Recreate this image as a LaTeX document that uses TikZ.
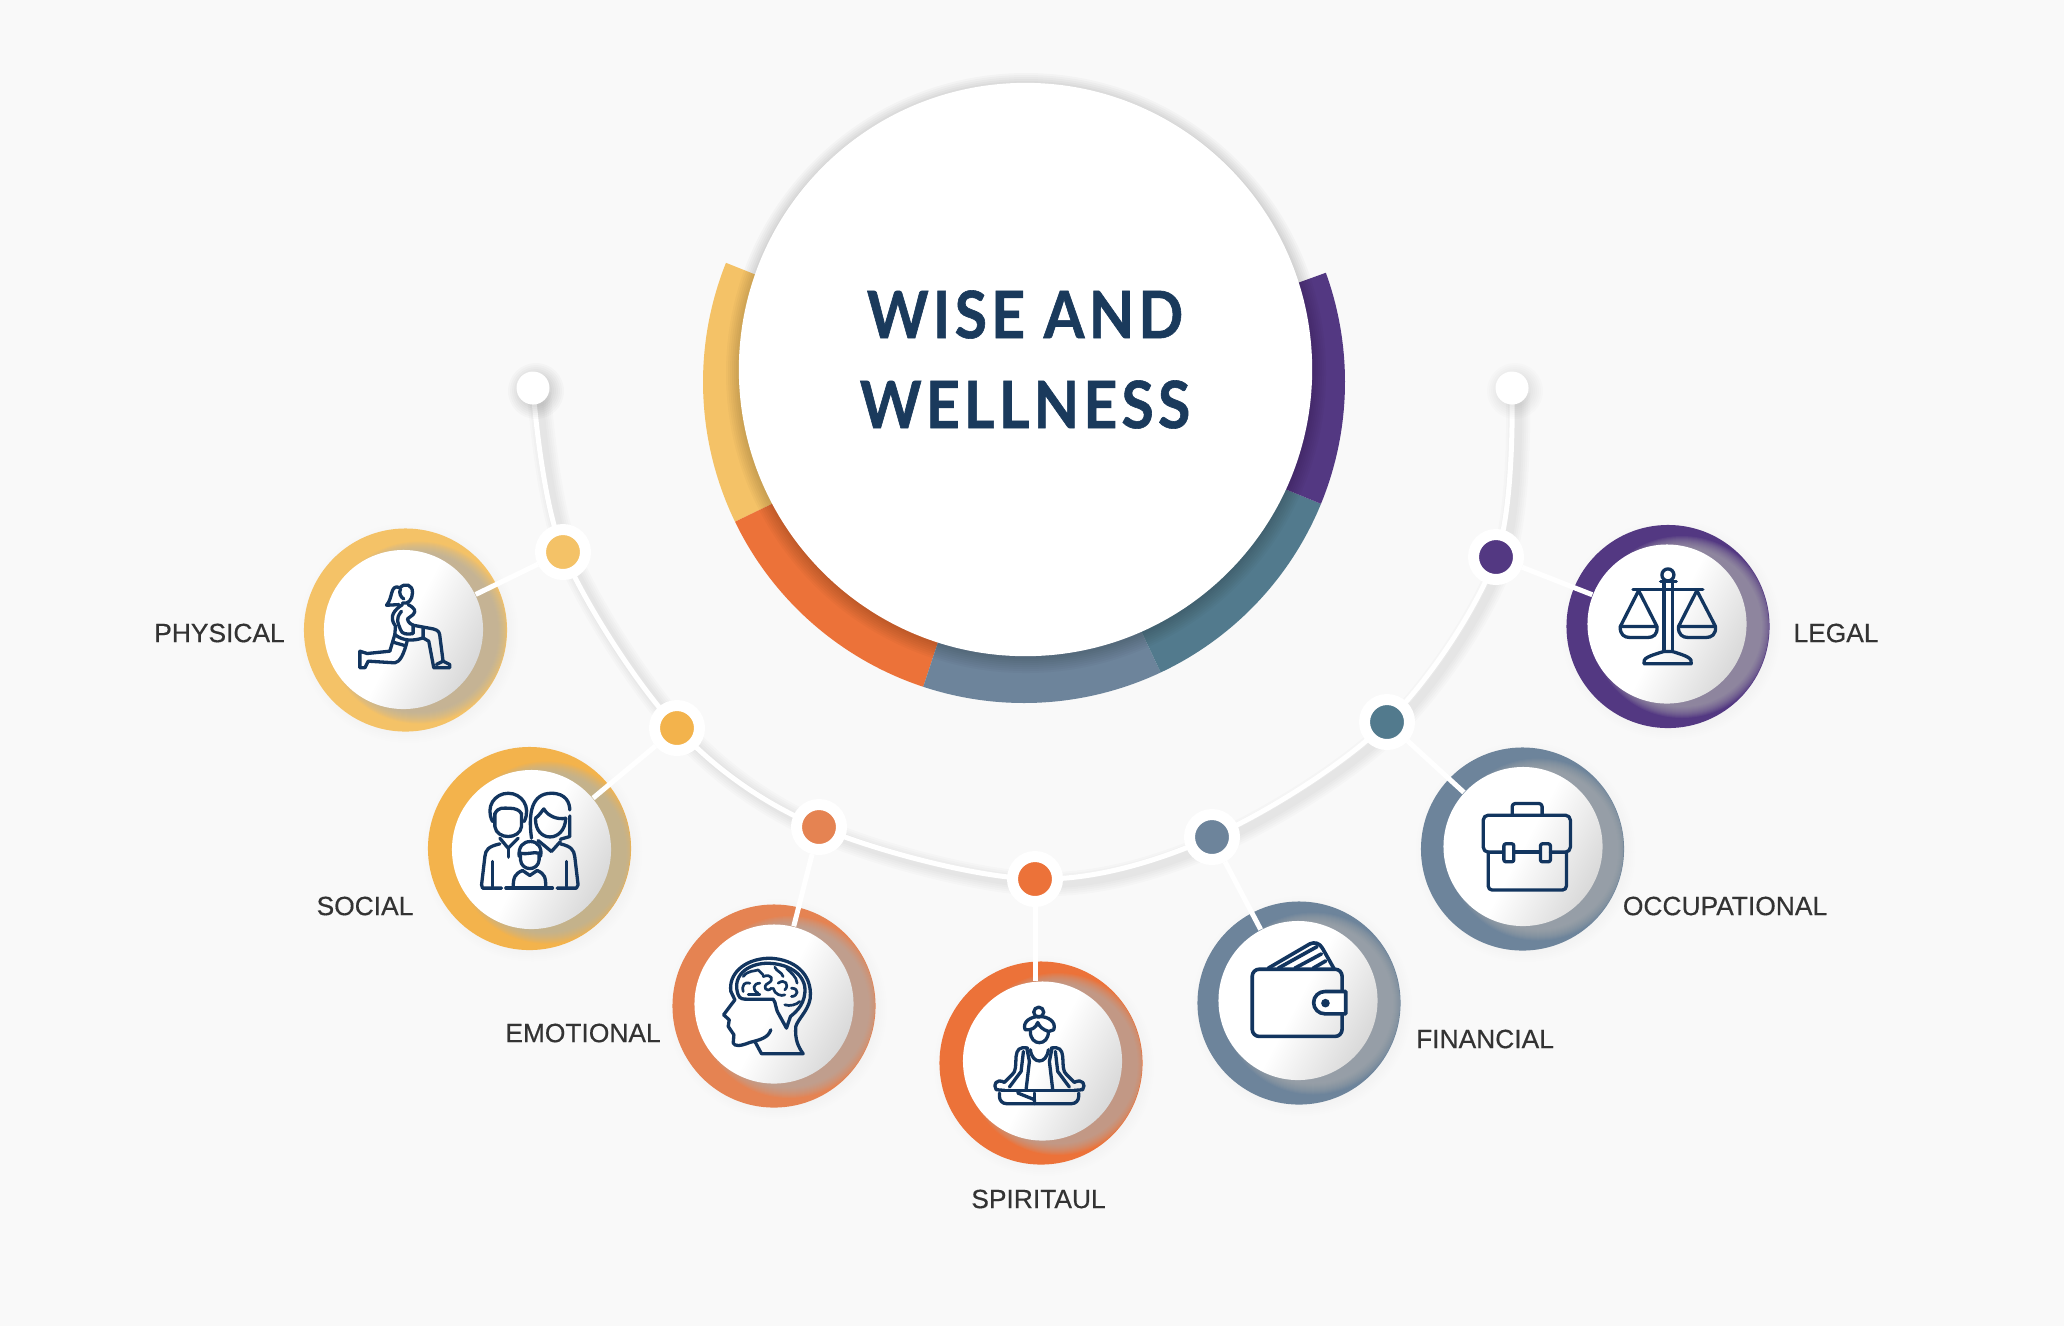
\documentclass[tikz,border=0pt]{standalone}
\usepackage{fontspec}
\usepackage{xcolor}
\setmainfont[FakeBold=.45]{Liberation Sans}
\newfontfamily\titlefont[FakeStretch=.9,LetterSpace=6.5,BoldFeatures={FakeBold=.9}]{Lato}
\definecolor{pagegrey}{HTML}{F9F9F9}
\definecolor{inkblue}{HTML}{12355F}
\definecolor{titleblue}{HTML}{1A3A5C}
\definecolor{labelgrey}{HTML}{333333}
\definecolor{physcol}{HTML}{F4C267}
\definecolor{soccol}{HTML}{F3B34C}
\definecolor{emocol}{HTML}{E58352}
\definecolor{spircol}{HTML}{EC7239}
\definecolor{fincol}{HTML}{6D849B}
\definecolor{tealcol}{HTML}{527A8D}
\definecolor{legcol}{HTML}{533882}
\tikzset{
  ringdisc/.style={circle,minimum size=2.03cm,inner sep=0pt},
  innerdisc/.style={circle,minimum size=1.59cm,inner sep=0pt,top color=white,bottom color=black!15,middle color=white,shading angle=62},
  dotnode/.style={circle,draw=white,line width=.11cm,minimum size=.45cm,inner sep=0pt},
  enddot/.style={circle,fill=white,minimum size=.33cm,inner sep=0pt},
  spoke/.style={draw=white,line width=.05cm},
  rail/.style={draw=white,line width=.05cm},
  tag/.style={text=labelgrey,font=\fontsize{7.5}{9}\selectfont},
  headline/.style={text=titleblue,font=\titlefont\bfseries\fontsize{18.6}{22}\selectfont},
  iconink/.style={x=.0033333cm,y=-.0033333cm,color=inkblue,line width=.033cm,line cap=round,line join=round}
}
% x y radius opacity
\newcommand{\softshadow}[4]{%
  \foreach \i in {1,...,7} \fill[black,opacity=#4] (#1,#2) circle ({#3+\i*2});}
% name, ring centre, disc centre, colour
\newcommand{\wellball}[6]{%
  \softshadow{#2+3}{#3+3}{96}{.004}
  \node[ringdisc,fill=#6] (r#1) at (#2,#3) {};
  \begin{scope}
    \clip (#2,#3) circle (101);
    \foreach \r in {80,81,...,91} \fill[black!30,opacity=.085] (#4+15,#5+3) circle (\r);
  \end{scope}
  \node[innerdisc] (i#1) at (#4,#5) {};}
\begin{document}
\begin{tikzpicture}[x=.01cm,y=-.01cm]
  \useasboundingbox (0,0) rectangle (2064,1326);
  \fill[pagegrey] (0,0) rectangle (2064,1326);

  % the big ring
  \coordinate (hub) at (1024,382);
  \foreach \from/\to/\col in {154.2/201.8/physcol,108.3/154.2/spircol,64.8/108.3/fincol,22.3/64.8/tealcol,-19.9/22.3/legcol}
    \fill[\col] (hub) -- ++(\to:321) arc (\to:\from:321) -- cycle;
  \foreach \i in {1,...,8} \fill[black,opacity=.024] (1026,373) circle ({284+\i*2});
  \node[circle,fill=white,minimum size=5.73cm,inner sep=0pt] (wisecore) at (1025.5,369.5) {};
  \node[headline] (wiseline) at (1025,314.5) {WISE AND};
  \node[headline] (wellline) at (1025,404.5) {WELLNESS};

  % points on the rail
  \coordinate (cleft) at (533,388);
  \coordinate (cphys) at (563,552);
  \coordinate (csoc) at (677,728);
  \coordinate (cemo) at (819,827);
  \coordinate (cspir) at (1035,879);
  \coordinate (cfin) at (1212,837);
  \coordinate (cocc) at (1387,722);
  \coordinate (cleg) at (1496,557);
  \coordinate (cright) at (1512,388);
  \foreach \w in {24,20,16,12,8}
    \draw[black,opacity=.014,line width=\w*.01cm,transform canvas={xshift=.06cm,yshift=-.05cm}]
      plot[smooth,tension=.55] coordinates {(cleft) (cphys) (csoc) (cemo) (cspir) (cfin) (cocc) (cleg) (cright)};
  \draw[rail] plot[smooth,tension=.55] coordinates {(cleft) (cphys) (csoc) (cemo) (cspir) (cfin) (cocc) (cleg) (cright)};

  \softshadow{536}{391}{14}{.02}
  \softshadow{1515}{391}{14}{.012}
  \node[enddot] (dleft) at (cleft) {};
  \node[enddot] (dright) at (cright) {};

  \wellball{phys}{405.5}{630}{403.5}{629.5}{physcol}
  \wellball{soc}{529.5}{848.5}{531.5}{849.5}{soccol}
  \wellball{emo}{774}{1006}{774}{1004}{emocol}
  \wellball{spir}{1041}{1063}{1042.5}{1061}{spircol}
  \wellball{fin}{1299}{1003}{1298}{1000.5}{fincol}
  \wellball{occ}{1522.5}{849}{1523}{846.5}{fincol}
  \wellball{leg}{1668}{626.5}{1667}{624}{legcol}

  \node[dotnode,fill=physcol] (dphys) at (cphys) {};
  \node[dotnode,fill=soccol] (dsoc) at (csoc) {};
  \node[dotnode,fill=emocol] (demo) at (cemo) {};
  \node[dotnode,fill=spircol] (dspir) at (cspir) {};
  \node[dotnode,fill=fincol] (dfin) at (cfin) {};
  \node[dotnode,fill=tealcol] (docc) at (cocc) {};
  \node[dotnode,fill=legcol] (dleg) at (cleg) {};

  \draw[spoke] (dphys) -- (iphys);
  \draw[spoke] (dsoc) -- (isoc);
  \draw[spoke] (demo) -- (iemo);
  \draw[spoke] (dspir) -- (dspir |- ispir.north);
  \draw[spoke] (dfin) -- (ifin);
  \draw[spoke] (docc) -- (iocc);
  \draw[spoke] (dleg) -- (ileg);

  \node[tag] (tphys) at (219.5,633) {PHYSICAL};
  \node[tag] (tsoc) at (365,906) {SOCIAL};
  \node[tag] (temo) at (583,1033) {EMOTIONAL};
  \node[tag] (tspir) at (1038.5,1199) {SPIRITAUL};
  \node[tag] (tfin) at (1485,1039) {FINANCIAL};
  \node[tag] (tocc) at (1725,906) {OCCUPATIONAL};
  \node[tag] (tleg) at (1836,633) {LEGAL};

  % lunge
  \begin{scope}[shift={(280,340)},iconink]
    \draw (360,745) .. controls (375,728) and (400,735) .. (398,760) .. controls (398,780) and (385,795) .. (368,790);
    \draw (358,743) .. controls (330,735) and (340,775) .. (320,797) -- (358,795);
    \draw (362,748) .. controls (355,760) and (365,775) .. (372,778);
    \draw (368,795) .. controls (345,810) and (325,830) .. (347,860) -- (345,885) -- (330,935);
    \draw (385,795) .. controls (405,805) and (410,815) .. (400,825) -- (383,838) .. controls (385,850) and (395,855) .. (400,857);
    \draw (365,815) .. controls (345,840) and (355,850) .. (362,870) .. controls (365,885) and (385,885) .. (400,882) -- (400,857);
    \draw (400,857) -- (460,868) .. controls (478,872) and (480,880) .. (481,895) -- (490,965);
    \draw (430,865) -- (430,895) -- (447,905) -- (462,985) -- (510,985) -- (510,975) -- (490,965) -- (470,975);
    \draw (345,885) .. controls (370,905) and (400,905) .. (430,895);
    \draw (340,908) -- (375,918);
    \draw (330,935) -- (262,942) -- (240,935) -- (240,985) -- (255,985) -- (265,965) -- (345,970) .. controls (360,968) and (372,945) .. (382,905);
  \end{scope}
  % family
  \begin{scope}[shift={(420,740)},iconink]
    \draw (225,220) -- (225,260) .. controls (230,300) and (300,300) .. (305,260) -- (305,220);
    \draw (218,245) .. controls (195,200) and (225,160) .. (265,160) .. controls (305,160) and (335,200) .. (313,245);
    \draw (225,222) .. controls (235,200) and (250,205) .. (270,205) .. controls (285,205) and (300,210) .. (305,222);
    \draw (240,295) -- (265,325) -- (295,295);
    \draw (265,325) -- (265,352);
    \draw (240,312) .. controls (205,320) and (197,330) .. (195,350) -- (185,435) -- (188,445) -- (245,445);
    \draw (217,365) -- (217,440);
    \draw (335,295) .. controls (325,220) and (335,160) .. (395,160) .. controls (440,160) and (450,190) .. (450,210);
    \draw (450,228) -- (450,290) -- (422,298);
    \draw (347,235) .. controls (360,225) and (365,215) .. (372,207) .. controls (385,230) and (415,240) .. (438,235);
    \draw (347,235) .. controls (345,310) and (435,310) .. (438,235);
    \draw (355,302) -- (395,335) -- (422,305);
    \draw (422,312) .. controls (455,320) and (462,330) .. (465,350) -- (475,435) -- (470,445) -- (412,445);
    \draw (440,365) -- (440,440);
    \draw (298,350) .. controls (295,320) and (310,305) .. (332,305) .. controls (355,305) and (368,325) .. (362,350);
    \draw (302,340) -- (302,360) .. controls (305,395) and (355,395) .. (358,360) -- (358,340);
    \draw (302,340) .. controls (325,345) and (340,335) .. (358,340);
    \draw (308,392) .. controls (285,402) and (280,412) .. (280,445);
    \draw (352,392) .. controls (375,402) and (378,412) .. (378,445);
    \draw (308,392) -- (330,407) -- (352,392);
    \draw (258,445) -- (398,445);
  \end{scope}
  % head with brain
  \begin{scope}[shift={(660,880)},iconink]
    \draw (213,335) -- (225,360) -- (191,405) -- (208,420) -- (205,440) -- (222,465) -- (220,490) .. controls (225,500) and (240,500) .. (270,488) .. controls (300,480) and (325,475) .. (333,450);
    \draw (285,485) -- (305,522) -- (430,522) .. controls (415,500) and (405,480) .. (408,440) .. controls (415,415) and (455,385) .. (452,340) .. controls (450,270) and (390,235) .. (325,235) .. controls (250,238) and (205,285) .. (213,335);
    \draw (235,345) .. controls (240,358) and (250,358) .. (262,358) -- (340,358) .. controls (350,370) and (345,385) .. (358,405) -- (380,445) -- (392,410) .. controls (410,395) and (440,370) .. (435,320) .. controls (425,270) and (370,250) .. (320,250) .. controls (260,252) and (215,290) .. (235,345);
    \draw[line width=.027cm] (250,335) .. controls (245,315) and (255,305) .. (270,310);
    \draw[line width=.027cm] (250,290) .. controls (265,270) and (285,275) .. (295,270) -- (310,285);
    \draw[line width=.027cm] (300,310) .. controls (280,310) and (275,330) .. (295,340);
    \draw[line width=.027cm] (310,290) .. controls (335,280) and (345,300) .. (325,310) .. controls (305,320) and (320,340) .. (335,325);
    \draw[line width=.027cm] (345,262) .. controls (350,275) and (365,275) .. (370,290);
    \draw[line width=.027cm] (380,265) .. controls (395,280) and (410,290) .. (412,310);
    \draw[line width=.027cm] (355,310) .. controls (375,295) and (390,315) .. (375,330);
    \draw[line width=.027cm] (340,325) .. controls (345,345) and (365,350) .. (375,345);
    \draw[line width=.027cm] (395,325) .. controls (420,325) and (415,350) .. (395,350);
    \draw[line width=.027cm] (375,375) .. controls (390,380) and (410,375) .. (420,365);
    \draw[line width=.027cm] (265,345) -- (300,345);
  % meditating figure
    \draw (1138,397) circle (15);
    \draw (1097,450) .. controls (1088,425) and (1115,410) .. (1140,410) .. controls (1165,410) and (1192,425) .. (1183,450) -- (1168,455) .. controls (1150,450) and (1140,440) .. (1135,428) .. controls (1130,445) and (1115,452) .. (1097,450);
    \draw (1113,455) .. controls (1112,500) and (1168,500) .. (1167,455);
    \draw (1105,505) .. controls (1080,500) and (1072,510) .. (1070,530) .. controls (1068,560) and (1070,575) .. (1058,585) -- (1035,608) .. controls (1010,595) and (1000,615) .. (1010,630) -- (1035,632);
    \draw (1175,505) .. controls (1200,500) and (1208,510) .. (1210,530) .. controls (1212,560) and (1210,575) .. (1222,585) -- (1245,608) .. controls (1270,595) and (1280,615) .. (1270,630) -- (1245,632);
    \draw (1092,515) -- (1085,575) -- (1050,622);
    \draw (1188,515) -- (1195,575) -- (1230,622);
    \draw (1102,505) -- (1110,545) -- (1100,630);
    \draw (1178,505) -- (1170,545) -- (1180,630);
    \draw (1113,510) .. controls (1118,555) and (1162,555) .. (1167,510);
    \draw (1035,632) -- (1245,632);
    \draw[rounded corners=.07cm] (1020,640) -- (1020,672) -- (1258,672) -- (1258,640);
    \draw (1075,640) -- (1125,660) -- (1125,672);
    \draw (1125,640) -- (1125,660);
  \end{scope}
  % wallet
  \begin{scope}[shift={(1180,880)},iconink,line width=.036cm]
    \draw[rounded corners=.07cm] (217,268) rectangle (487,470);
    \draw[fill=white] (435,335) -- (498,335) -- (498,402) -- (435,402) arc (90:270:33.5);
    \fill (437,370) circle (13);
    \draw (265,265) -- (390,192) .. controls (405,185) and (420,190) .. (428,205) -- (462,265);
    \draw (295,265) -- (412,200);
    \draw (345,265) -- (425,222);
    \draw (400,265) -- (438,243);
  \end{scope}
  % briefcase and scales
  \begin{scope}[shift={(1400,500)},iconink]
    \draw[rounded corners=.03cm] (337,947) -- (337,912) -- (427,912) -- (427,947);
    \draw[rounded corners=.05cm] (310,1058) -- (250,1058) -- (250,947) -- (512,947) -- (512,1058) -- (452,1058);
    \draw (345,1058) -- (420,1058);
    \draw[rounded corners=.04cm] (265,1058) -- (265,1172) -- (500,1172) -- (500,1058);
    \draw[rounded corners=.02cm] (312,1033) rectangle (342,1087);
    \draw[rounded corners=.02cm] (422,1033) rectangle (452,1087);
    \draw (805,225) circle (18);
    \draw (783,245) -- (830,245);
    \draw (793,245) -- (793,455);
    \draw (818,245) -- (818,455);
    \draw (700,268) -- (910,268);
    \draw (733,492) -- (875,492) .. controls (880,475) and (860,468) .. (818,455) -- (793,455) .. controls (750,468) and (728,475) .. (733,492);
    \draw (717,272) -- (662,380) -- (772,380) -- cycle;
    \draw (662,380) .. controls (660,405) and (675,413) .. (690,413) -- (745,413) .. controls (760,413) and (775,405) .. (772,380);
    \draw (892,272) -- (837,380) -- (948,380) -- cycle;
    \draw (837,380) .. controls (835,405) and (850,413) .. (865,413) -- (920,413) .. controls (935,413) and (950,405) .. (948,380);
  \end{scope}
\end{tikzpicture}
\end{document}
